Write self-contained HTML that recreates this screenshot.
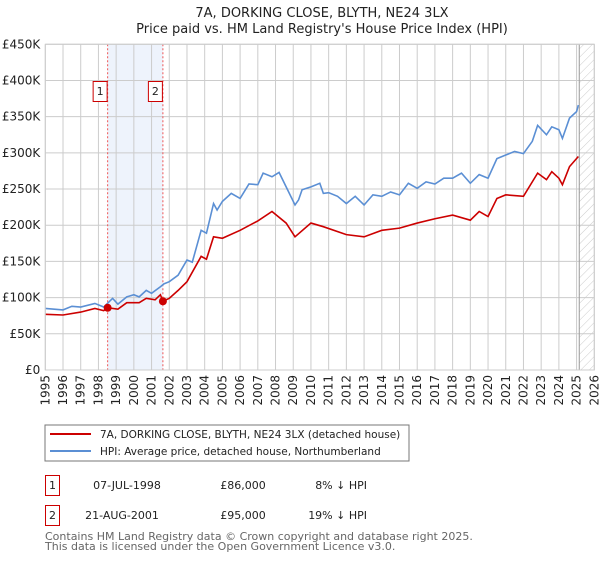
<!DOCTYPE html>
<html><head><meta charset="utf-8"><style>
body{margin:0;background:#fff;font-family:"DejaVu Sans","Liberation Sans",sans-serif;}
svg text{font-family:"DejaVu Sans","Liberation Sans",sans-serif;}
</style></head><body>
<svg id="c" width="600" height="560" xmlns="http://www.w3.org/2000/svg">
<defs><pattern id="hatch" width="6" height="6" patternUnits="userSpaceOnUse" patternTransform="rotate(45)"><line x1="0" y1="0" x2="0" y2="6" stroke="#ccc" stroke-width="1"/></pattern></defs>
<text x="322" y="17" text-anchor="middle" font-size="13" fill="#222">7A, DORKING CLOSE, BLYTH, NE24 3LX</text>
<text x="322" y="33" text-anchor="middle" font-size="13" fill="#222">Price paid vs. HM Land Registry's House Price Index (HPI)</text>
<g id="grid"></g><g id="marks"></g><g id="axes"></g>
<rect x="45" y="425" width="364" height="36" fill="#fff" stroke="#777"/>
<line x1="50" y1="434" x2="91" y2="434" stroke="#cc0000" stroke-width="2"/>
<text x="100" y="438" font-size="10.5" fill="#222">7A, DORKING CLOSE, BLYTH, NE24 3LX (detached house)</text>
<line x1="50" y1="451" x2="91" y2="451" stroke="#5b8fd4" stroke-width="2"/>
<text x="100" y="455" font-size="10.5" fill="#222">HPI: Average price, detached house, Northumberland</text>
<g fill="#222">
<rect x="45.5" y="475.5" width="14" height="20" fill="#fff" stroke="#cc0000"/><text x="52.5" y="489" text-anchor="middle" font-size="11">1</text>
<text x="127" y="489" text-anchor="middle" font-size="11">07-JUL-1998</text>
<text x="243" y="489" text-anchor="middle" font-size="11">£86,000</text>
<text x="367" y="489" text-anchor="end" font-size="11">8% ↓ HPI</text></g>
<g fill="#222">
<rect x="45.5" y="505.5" width="14" height="20" fill="#fff" stroke="#cc0000"/><text x="52.5" y="519" text-anchor="middle" font-size="11">2</text>
<text x="122" y="519" text-anchor="middle" font-size="11">21-AUG-2001</text>
<text x="243" y="519" text-anchor="middle" font-size="11">£95,000</text>
<text x="367" y="519" text-anchor="end" font-size="11">19% ↓ HPI</text></g>
<text x="45" y="540" font-size="11" fill="#666">Contains HM Land Registry data © Crown copyright and database right 2025.</text>
<text x="45" y="550" font-size="11" fill="#666">This data is licensed under the Open Government Licence v3.0.</text>
</svg>
<script>
const hpiYears=[1995,1996,1996.5,1997,1997.8,1998.3,1998.8,1999.1,1999.6,2000,2000.3,2000.7,2001,2001.5,2001.7,2002,2002.5,2003,2003.3,2003.8,2004.1,2004.5,2004.7,2005,2005.5,2006,2006.5,2007,2007.3,2007.8,2008.2,2008.6,2009.1,2009.3,2009.5,2010,2010.5,2010.7,2011,2011.5,2012,2012.5,2013,2013.5,2014,2014.5,2015,2015.5,2016,2016.5,2017,2017.5,2018,2018.5,2019,2019.5,2020,2020.5,2021,2021.5,2022,2022.5,2022.8,2023.3,2023.6,2024,2024.2,2024.6,2025,2025.1];
const hpiValues=[85,83,88,87,92,87,99,91,101,104,101,110,106,115,119,122,131,152,149,193,189,230,221,233,244,237,257,256,272,267,273,253,228,235,249,253,258,244,245,240,230,240,228,242,240,246,242,258,251,260,257,265,265,272,258,270,265,292,297,302,299,316,338,325,336,332,320,348,357,366];
const ppYears=[1995,1996,1997,1997.8,1998.3,1998.52,1999.1,1999.6,2000.3,2000.7,2001.2,2001.5,2001.64,2002,2002.5,2003,2003.8,2004.1,2004.5,2005,2006,2007,2007.8,2008.6,2009.1,2010,2010.7,2012,2013,2014,2015,2016,2017,2018,2019,2019.5,2020,2020.5,2021,2022,2022.8,2023.3,2023.6,2024,2024.2,2024.6,2025.1];
const ppValues=[77,76,80,85,82,86,84,93,93,99,97,104,95,99,110,122,157,153,184,182,193,206,219,203,184,203,198,187,184,193,196,203,209,214,207,219,212,237,242,240,272,263,274,265,256,281,295];
const saleYears=[1998.52,2001.64];
const saleValues=[86,95];
const yTicks=[0,50,100,150,200,250,300,350,400,450];
const yTickLabels=["£0","£50K","£100K","£150K","£200K","£250K","£300K","£350K","£400K","£450K"];
const xTicks=[1995,1996,1997,1998,1999,2000,2001,2002,2003,2004,2005,2006,2007,2008,2009,2010,2011,2012,2013,2014,2015,2016,2017,2018,2019,2020,2021,2022,2023,2024,2025,2026];
const NS="http://www.w3.org/2000/svg";
const X0=45.3,X1=594.3,Y0=370,Y1=44.3;
const x=v=>X0+(v-1995)/(2026-1995)*(X1-X0);
const y=v=>Y0-(v/450)*(Y0-Y1);
function mk(t,a,p){const e=document.createElementNS(NS,t);for(const k in a)e.setAttribute(k,a[k]);p.appendChild(e);return e;}
const G=document.getElementById('grid'),M=document.getElementById('marks'),A=document.getElementById('axes');
const band=mk('rect',{x:x(1998.52),y:Y1,width:x(2001.64)-x(1998.52),height:Y0-Y1,fill:'#eef3fc'},G);


const hat=mk('rect',{x:x(2025.15),y:Y1,width:X1-x(2025.15),height:Y0-Y1,fill:'url(#hatch)'},G);


yTicks.forEach((t,i)=>{
 const l=mk('line',{x1:X0,x2:X1,y1:y(t),y2:y(t),stroke:'#ccc'},G);
 
 
 const tx=mk('text',{x:X0-5,y:y(t)+4,'text-anchor':'end','font-size':'12',fill:'#222'},A);
 tx.textContent=yTickLabels[i];
 
 
});
xTicks.forEach(t=>{
 const l=mk('line',{x1:x(t),x2:x(t),y1:Y1,y2:Y0,stroke:'#ccc'},G);
 
 
 const tx=mk('text',{x:0,y:0,'text-anchor':'end','font-size':'12',fill:'#222',transform:`translate(${x(t)+4},${Y0+5}) rotate(-90)`},A);
 tx.textContent=t;
 
 
});
const vl=mk('line',{x1:x(2025.15),x2:x(2025.15),y1:Y1,y2:Y0,stroke:'#999'},G);


saleYears.forEach((s,i)=>{
 const l=mk('line',{x1:x(s),x2:x(s),y1:Y1,y2:Y0,stroke:'#ee5555','stroke-dasharray':'2,2'},G);
 
 
});
const hp=mk('polyline',{points:hpiYears.map((v,i)=>x(v)+','+y(hpiValues[i])).join(' '),fill:'none',stroke:'#5b8fd4','stroke-width':'1.6'},M);


const pp=mk('polyline',{points:ppYears.map((v,i)=>x(v)+','+y(ppValues[i])).join(' '),fill:'none',stroke:'#cc0000','stroke-width':'1.6'},M);


saleYears.forEach((s,i)=>{
 const c=mk('circle',{cx:x(s),cy:y(saleValues[i]),r:4,fill:'#cc0000'},M);
 
 
 const g=mk('g',{},M);
 
 
 mk('rect',{x:x(s)-14.5,y:81.5,width:14,height:20,fill:'#fff',stroke:'#cc0000'},g);
 const t=mk('text',{x:x(s)-7.5,y:95,'text-anchor':'middle','font-size':'11',fill:'#222'},g);
 t.textContent=String(i+1);
});
mk('rect',{x:X0,y:Y1,width:X1-X0,height:Y0-Y1,fill:'none',stroke:'#ccc'},A);
</script>
</body></html>
